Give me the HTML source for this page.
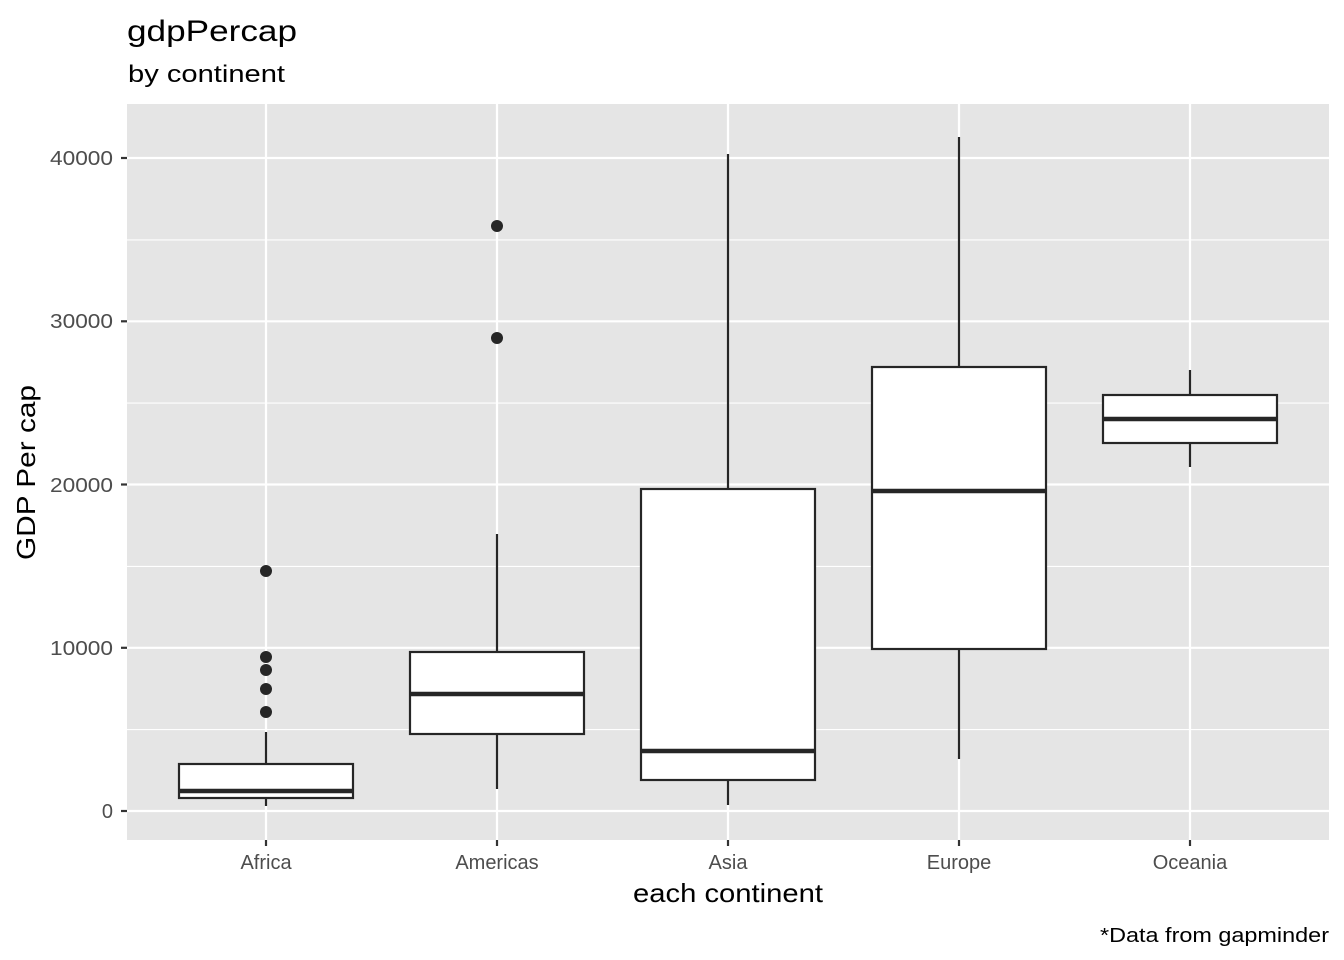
<!DOCTYPE html>
<html><head><meta charset="utf-8"><style>body{margin:0;background:#fff}svg{display:block}text{font-family:"Liberation Sans",Arial,sans-serif}</style></head><body>
<svg width="1344" height="960" viewBox="0 0 1344 960" xmlns="http://www.w3.org/2000/svg">
<rect width="1344" height="960" fill="#fff"/>
<text x="127" y="41" font-size="30" fill="#000" textLength="170" lengthAdjust="spacingAndGlyphs">gdpPercap</text>
<text x="128" y="82" font-size="24" fill="#000" textLength="157" lengthAdjust="spacingAndGlyphs">by continent</text>
<rect x="127" y="104" width="1202" height="736" fill="#e5e5e5"/>
<g stroke="#fff" stroke-width="1.1">
<line x1="127" x2="1329" y1="729.6" y2="729.6"/><line x1="127" x2="1329" y1="566.4" y2="566.4"/>
<line x1="127" x2="1329" y1="403.1" y2="403.1"/><line x1="127" x2="1329" y1="239.9" y2="239.9"/>
</g>
<g stroke="#fff" stroke-width="2.2">
<line x1="127" x2="1329" y1="811" y2="811"/><line x1="127" x2="1329" y1="647.8" y2="647.8"/>
<line x1="127" x2="1329" y1="484.5" y2="484.5"/><line x1="127" x2="1329" y1="321.3" y2="321.3"/>
<line x1="127" x2="1329" y1="158" y2="158"/>
<line x1="266" x2="266" y1="104" y2="840"/><line x1="497" x2="497" y1="104" y2="840"/>
<line x1="728" x2="728" y1="104" y2="840"/><line x1="959" x2="959" y1="104" y2="840"/>
<line x1="1190" x2="1190" y1="104" y2="840"/>
</g>
<g stroke="#333" stroke-width="2.2">
<line x1="121" x2="127" y1="811" y2="811"/><line x1="121" x2="127" y1="647.8" y2="647.8"/>
<line x1="121" x2="127" y1="484.5" y2="484.5"/><line x1="121" x2="127" y1="321.3" y2="321.3"/>
<line x1="121" x2="127" y1="158" y2="158"/>
<line x1="266" x2="266" y1="840" y2="846"/><line x1="497" x2="497" y1="840" y2="846"/>
<line x1="728" x2="728" y1="840" y2="846"/><line x1="959" x2="959" y1="840" y2="846"/>
<line x1="1190" x2="1190" y1="840" y2="846"/>
</g>
<g font-size="20" fill="#4d4d4d" text-anchor="end">
<text x="113" y="818">0</text>
<text x="113" y="655" textLength="63" lengthAdjust="spacingAndGlyphs">10000</text>
<text x="113" y="492" textLength="63" lengthAdjust="spacingAndGlyphs">20000</text>
<text x="113" y="328" textLength="63" lengthAdjust="spacingAndGlyphs">30000</text>
<text x="113" y="165" textLength="63" lengthAdjust="spacingAndGlyphs">40000</text>
</g>
<g font-size="20" fill="#4d4d4d" text-anchor="middle">
<text x="266" y="869">Africa</text><text x="497" y="869">Americas</text><text x="728" y="869">Asia</text>
<text x="959" y="869">Europe</text><text x="1190" y="869">Oceania</text>
</g>
<text x="633" y="902" font-size="26" fill="#000" textLength="190" lengthAdjust="spacingAndGlyphs">each continent</text>
<text transform="translate(35,560) rotate(-90)" font-size="26" fill="#000" textLength="175" lengthAdjust="spacingAndGlyphs">GDP Per cap</text>
<text x="1100" y="942" font-size="20" fill="#000" textLength="229" lengthAdjust="spacingAndGlyphs">*Data from gapminder</text>
<g stroke="#262626" stroke-width="2.2" fill="#fff">
<line x1="266" x2="266" y1="732" y2="806"/>
<rect x="179" y="764" width="174" height="34"/>
<line x1="179" x2="353" y1="791" y2="791" stroke-width="4.4"/>
<line x1="497" x2="497" y1="534" y2="789"/>
<rect x="410" y="652" width="174" height="82"/>
<line x1="410" x2="584" y1="694" y2="694" stroke-width="4.4"/>
<line x1="728" x2="728" y1="154" y2="805"/>
<rect x="641" y="489" width="174" height="291"/>
<line x1="641" x2="815" y1="751" y2="751" stroke-width="4.4"/>
<line x1="959" x2="959" y1="137" y2="759"/>
<rect x="872" y="367" width="174" height="282"/>
<line x1="872" x2="1046" y1="491" y2="491" stroke-width="4.4"/>
<line x1="1190" x2="1190" y1="370" y2="467"/>
<rect x="1103" y="395" width="174" height="48"/>
<line x1="1103" x2="1277" y1="419" y2="419" stroke-width="4.4"/>
</g>
<g fill="#262626">
<circle cx="266" cy="571" r="6"/><circle cx="266" cy="657" r="6"/><circle cx="266" cy="670" r="6"/>
<circle cx="266" cy="689" r="6"/><circle cx="266" cy="712" r="6"/>
<circle cx="497" cy="226" r="6"/><circle cx="497" cy="338" r="6"/>
</g>
</svg>
</body></html>
